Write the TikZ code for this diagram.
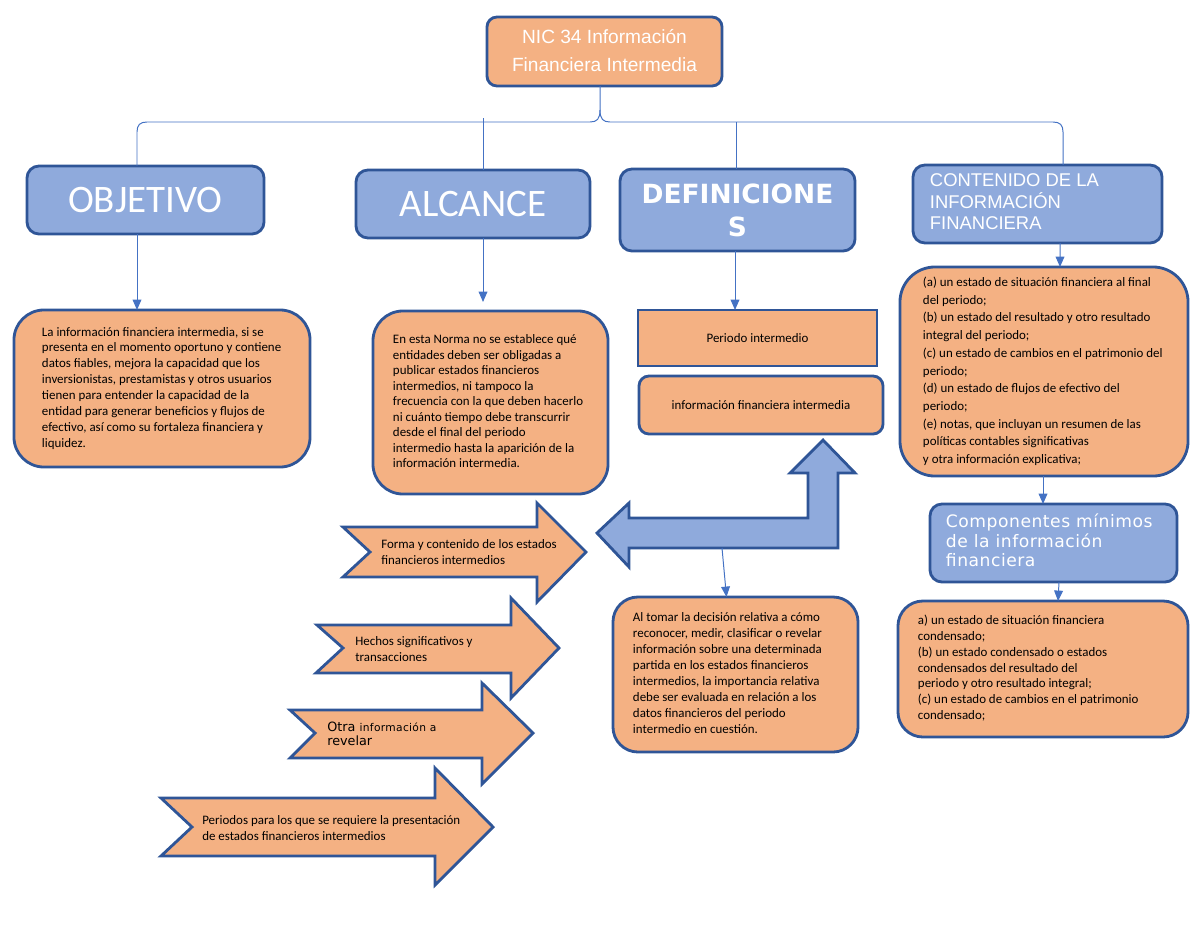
\documentclass[tikz,border=0pt]{standalone}
\usepackage{fontspec}
\setmainfont{Carlito}
\newfontfamily\dvs{DejaVu Sans}
\newfontfamily\dvsls[LetterSpace=3]{DejaVu Sans}
\newfontfamily\lsans{Liberation Sans}
\usetikzlibrary{arrows.meta,calc}
\definecolor{org}{RGB}{244,177,131}
\definecolor{blu}{RGB}{143,170,220}
\definecolor{bdr}{RGB}{47,85,151}
\definecolor{lnk}{RGB}{68,114,196}
\newcommand\txtlines[2]{\makebox[#1][l]{\begin{tabular}{@{}l@{}}#2\end{tabular}}}
\begin{document}
\begin{tikzpicture}[x=0.025cm,y=-0.025cm,
 box/.style={draw=bdr,line width=2pt,inner sep=0pt,outer sep=0pt},
 obox/.style={box,fill=org},
 bbox/.style={box,fill=blu,text=white},
 conn/.style={draw=lnk,line width=0.7pt},
 arr/.style={conn,-{Triangle[length=2.6mm,width=2.2mm]}},
 body/.style={align=left,text=black}
]
\useasboundingbox (0,0) rectangle (1200,927);
\fill[white] (0,0) rectangle (1200,927);

% top node
\node[obox,rounded corners=0.25cm,minimum width=5.875cm,minimum height=1.725cm,text=white,align=center,
  font=\lsans\fontsize{13.6}{19.9}\selectfont] (top) at (604.5,51.5) {\raisebox{-0.06cm}{\begin{tabular}{@{}c@{}}NIC 34 Información\\Financiera Intermedia\end{tabular}}};

% headers
\node[bbox,rounded corners=0.3cm,minimum width=5.925cm,minimum height=1.7cm,font=\fontsize{27.7}{30}\selectfont] (obj) at (145.5,200) {OBJETIVO};
\node[bbox,rounded corners=0.3cm,minimum width=5.85cm,minimum height=1.7cm,font=\fontsize{27.7}{30}\selectfont] (alc) at (473,204) {ALCANCE};
\node[bbox,rounded corners=0.3cm,minimum width=5.875cm,minimum height=2.05cm,align=center,font=\dvs\bfseries\fontsize{18.8}{23.5}\selectfont] (def) at (737.5,210) {DEFINICIONE\\S};
\node[bbox,rounded corners=0.3cm,minimum width=6.225cm,minimum height=1.95cm,font=\lsans\fontsize{13.1}{15}\selectfont] (con) at (1037.5,204) {\raisebox{-0.1cm}{\txtlines{5.375cm}{CONTENIDO DE LA\\INFORMACIÓN\\FINANCIERA}}};

% text boxes
\node[obox,body,rounded corners=0.75cm,minimum width=7.4cm,minimum height=3.925cm,font=\fontsize{9.2}{11.3}\selectfont] (objt) at (162,388.5)
{\txtlines{6cm}{La información financiera intermedia, si se\\presenta en el momento oportuno y contiene\\datos fiables, mejora la capacidad que los\\inversionistas, prestamistas y otros usuarios\\tienen para entender la capacidad de la\\entidad para generar beneficios y flujos de\\efectivo, así como su fortaleza financiera y\\liquidez.}};

\node[obox,body,rounded corners=0.75cm,minimum width=5.875cm,minimum height=4.575cm,font=\fontsize{9.2}{11}\selectfont] (alct) at (490.5,402.5)
{\raisebox{-0.06cm}{\txtlines{4.875cm}{En esta Norma no se establece qué\\entidades deben ser obligadas a\\publicar estados financieros\\intermedios, ni tampoco la\\frecuencia con la que deben hacerlo\\ni cuánto tiempo debe transcurrir\\desde el final del periodo\\intermedio hasta la aparición de la\\información intermedia.}}};

\node[obox,align=center,minimum width=5.975cm,minimum height=1.4cm,font=\fontsize{9.2}{11.3}\selectfont] (per) at (757.5,338) {Periodo intermedio};
\node[obox,rounded corners=0.25cm,align=center,minimum width=6.1cm,minimum height=1.45cm,font=\fontsize{9.2}{11.3}\selectfont] (inf) at (761,405) {información financiera intermedia};

\node[obox,body,rounded corners=0.875cm,minimum width=7.2cm,minimum height=5.225cm,font=\fontsize{9.2}{12.6}\selectfont] (cont) at (1044,371.5)
{\txtlines{6.05cm}{(a) un estado de situación financiera al final\\del periodo;\\(b) un estado del resultado y otro resultado\\integral del periodo;\\(c) un estado de cambios en el patrimonio del\\periodo;\\(d) un estado de flujos de efectivo del\\periodo;\\(e) notas, que incluyan un resumen de las\\políticas contables significativas\\y otra información explicativa;}};

\node[bbox,rounded corners=0.3cm,minimum width=6.175cm,minimum height=1.95cm,font=\dvsls\fontsize{12.2}{13.5}\selectfont] (comp) at (1053.5,543) {\txtlines{5.375cm}{Componentes mínimos\\de la información\\financiera}};

\node[obox,body,rounded corners=0.625cm,minimum width=7.25cm,minimum height=3.4cm,font=\fontsize{9.2}{11.2}\selectfont] (compt) at (1043,669)
{\txtlines{6.25cm}{a) un estado de situación financiera\\condensado;\\(b) un estado condensado o estados\\condensados del resultado del\\periodo y otro resultado integral;\\(c) un estado de cambios en el patrimonio\\condensado;}};

\node[obox,body,rounded corners=0.625cm,minimum width=6.125cm,minimum height=3.875cm,font=\fontsize{9.2}{11.4}\selectfont] (alt) at (735.5,674.5)
{\txtlines{5.125cm}{Al tomar la decisión relativa a cómo\\reconocer, medir, clasificar o revelar\\información sobre una determinada\\partida en los estados financieros\\intermedios, la importancia relativa\\debe ser evaluada en relación a los\\datos financieros del periodo\\intermedio en cuestión.}};

% brace and connectors
\draw[conn] ($(top.south)+(-4.5,0)$) -- (600,110) .. controls (600,119) and (597,122) .. (590,122) -- (147,122) .. controls (140,122) and (137,125) .. (137,132) -- ($(obj.north)+(-8.5,0)$);
\draw[conn] (600,110) .. controls (600,119) and (603,122) .. (610,122) -- (1053,122) .. controls (1060,122) and (1063,125) .. (1063,132) -- ($(con.north)+(25.5,0)$);
\coordinate (alcTop) at (483,118);
\coordinate (defTop) at (736,122);
\draw[conn] (alcTop) -- ($(alc.north)+(10,0)$);
\draw[conn] (defTop) -- ($(def.north)+(-1.5,0)$);

\draw[arr] ($(obj.south)+(-8.5,0)$) -- ($(objt.north)+(-25,0)$);
\draw[arr] ($(alc.south)+(10,0)$) -- ($(alct.north)+(-7.5,-9)$);
\draw[arr] ($(def.south)+(-2.5,0)$) -- ($(per.north)+(-22.5,0)$);
\draw[arr] ($(con.south)+(22.5,0)$) -- ($(cont.north)+(16,0)$);
\draw[arr] ($(cont.south)+(-1,0)$) -- ($(comp.north)+(-10.5,0)$);
\draw[arr] ($(comp.south)+(5.5,0)$) -- ($(compt.north)+(15,0)$);

% bent arrow
\draw[box,fill=blu,line join=miter] (597,533) -- (629,503) -- (629,518) -- (808,518) -- (808,473) -- (790,473) -- (823,440) -- (855,473) -- (838,473) -- (838,548) -- (629,548) -- (629,567) -- cycle;
\coordinate (bend) at (722,548);
\draw[arr] (bend) -- ($(alt.north)+(-9,0)$);

% notched arrows
\draw[obox,line join=miter] (343,527) -- (537,527) -- (537,503) -- (586,552) -- (537,602) -- (537,577) -- (343,577) -- (370,552) -- cycle;
\node[body,anchor=west,inner sep=0pt,font=\fontsize{9.2}{11.4}\selectfont] (forma) at (381,552) {Forma y contenido de los estados\\financieros intermedios};

\draw[obox,line join=miter] (317,625) -- (511,625) -- (511,598) -- (559,648) -- (511,698) -- (511,673) -- (316,673) -- (343,648) -- cycle;
\node[body,anchor=west,inner sep=0pt,font=\fontsize{9.2}{11.4}\selectfont] (hechos) at (355,649) {Hechos significativos y\\transacciones};

\draw[obox,line join=miter] (290,710) -- (482,710) -- (482,683) -- (533,733) -- (482,784) -- (482,758) -- (290,758) -- (315,733) -- cycle;
\node[body,anchor=west,inner sep=0pt,font=\dvs\fontsize{9.1}{10}\selectfont] (otra) at (327,734) {Otra {\dvsls\fontsize{7.6}{10}\selectfont información a}\\revelar};

\draw[obox,line join=miter] (161,798) -- (435,798) -- (435,768) -- (493,827) -- (435,885) -- (435,856) -- (161,856) -- (192,827) -- cycle;
\node[body,anchor=west,inner sep=0pt,font=\fontsize{9.2}{11.4}\selectfont] (periodos) at (202,828) {Periodos para los que se requiere la presentación\\de estados financieros intermedios};
\end{tikzpicture}
\end{document}
